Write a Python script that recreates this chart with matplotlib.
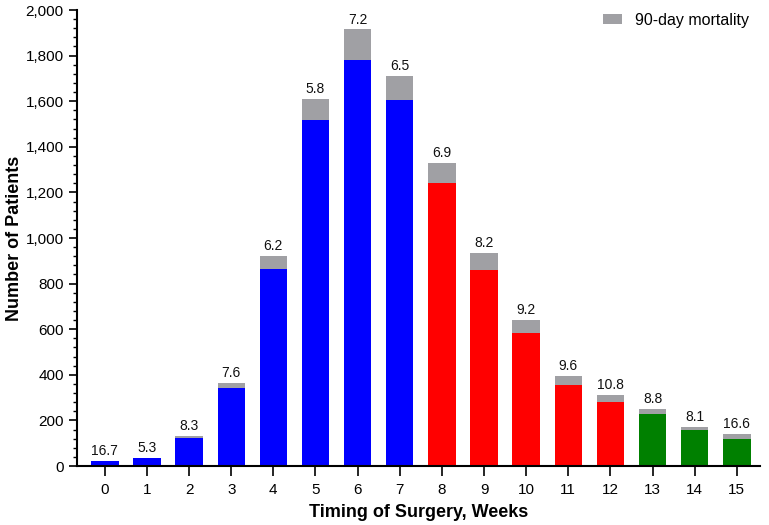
import matplotlib
matplotlib.use("Agg")
import matplotlib.pyplot as plt
from matplotlib.ticker import FuncFormatter, MultipleLocator

weeks = list(range(16))
survivors = [20, 34, 121, 341, 864, 1519, 1779, 1605, 1240, 860, 585, 357, 279, 228, 158, 120]
deaths = [4, 2, 10, 24, 57, 91, 136, 107, 89, 74, 55, 38, 34, 22, 13, 22]
mortality_pct = ["16.7", "5.3", "8.3", "7.6", "6.2", "5.8", "7.2", "6.5", "6.9", "8.2", "9.2", "9.6", "10.8", "8.8", "8.1", "16.6"]
group_colors = ["#0000FF"] * 8 + ["#FF0000"] * 5 + ["#008000"] * 3
grey = "#A0A0A4"

plt.rcParams['font.family'] = ['Liberation Sans', 'DejaVu Sans']

fig = plt.figure(figsize=(7.69, 5.25), dpi=100)
ax = fig.add_axes([77/769, 59/525, (760-77)/769, 456/525])

ax.bar(weeks, survivors, width=0.65, color=group_colors, zorder=2)
ax.bar(weeks, deaths, width=0.65, bottom=survivors, color=grey, zorder=2, label="90-day mortality")

for w, s, d, t in zip(weeks, survivors, deaths, mortality_pct):
    ax.text(w, s + d + 12, t, ha='center', va='bottom', fontsize=10, color='#111111')

ax.set_xlim(-0.66, 15.55)
ax.set_ylim(0, 2000)
ax.set_xticks(weeks)
ax.yaxis.set_major_locator(MultipleLocator(200))
ax.yaxis.set_minor_locator(MultipleLocator(40))
ax.yaxis.set_major_formatter(FuncFormatter(lambda v, p: f"{int(v):,}"))
ax.tick_params(axis='both', labelsize=11, width=1.2, length=6, color='black')
ax.tick_params(axis='x', length=7, pad=5)
ax.tick_params(axis='y', which='minor', length=3, width=1.0)
ax.spines['top'].set_visible(False)
ax.spines['right'].set_visible(False)
ax.spines['left'].set_linewidth(1.5)
ax.spines['bottom'].set_linewidth(1.5)

ax.set_xlabel("Timing of Surgery, Weeks", fontsize=13, fontweight='bold', labelpad=5)
ax.set_ylabel("Number of Patients", fontsize=13, fontweight='bold', labelpad=2)

leg = ax.legend(loc='upper right', frameon=False, fontsize=11.5, handlelength=1.2, handleheight=0.6,
                handletextpad=0.8, bbox_to_anchor=(1.005, 1.025))

fig.savefig("out.png", dpi=100)
